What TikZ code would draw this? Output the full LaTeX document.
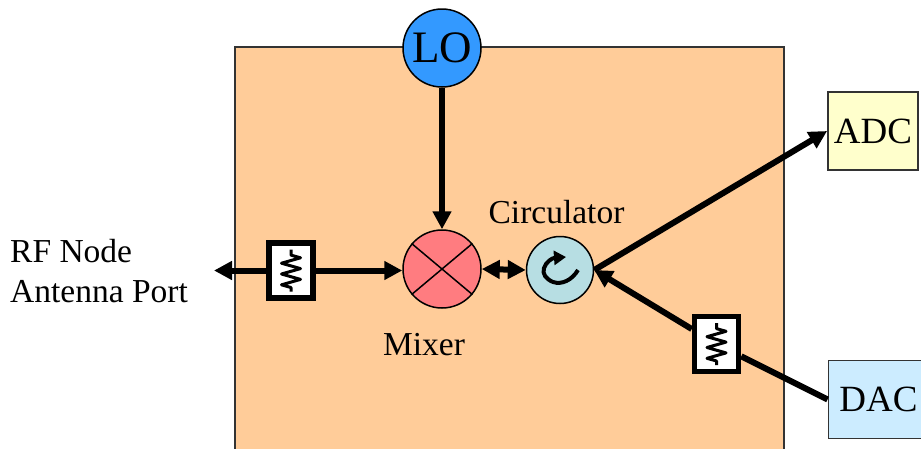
\documentclass[tikz,border=0pt]{standalone}
\usepackage{fontspec}
\setmainfont{Liberation Serif}
\usetikzlibrary{arrows.meta,decorations.pathmorphing}
\definecolor{boardcol}{HTML}{FFCC99}
\definecolor{locol}{HTML}{3399FF}
\definecolor{mixcol}{HTML}{FF7C80}
\definecolor{circcol}{HTML}{B7DEE3}
\definecolor{adccol}{HTML}{FFFFCC}
\definecolor{daccol}{HTML}{CCECFF}
\definecolor{edgecol}{HTML}{333333}
\tikzset{
  lbl/.style={font=\fontsize{33.5}{40}\selectfont, inner sep=0pt},
  blob/.style={circle, draw=black, line width=1.5pt, inner sep=0pt},
  conv/.style={rectangle, draw=edgecol, line width=1.8pt, minimum height=78pt, inner sep=0pt, font=\fontsize{37}{40}\selectfont},
  wire/.style={line width=6pt, -{Triangle[length=18pt,width=18pt]}},
  bothwire/.style={line width=6pt, {Triangle[length=18pt,width=18pt]}-{Triangle[length=18pt,width=18pt]}},
  resbox/.style={rectangle, draw=black, fill=white, line width=5.5pt, minimum width=44pt, minimum height=55pt, inner sep=0pt,
    path picture={
      \draw[line width=3pt, line join=round, decorate, decoration={zigzag, segment length=10.8pt, amplitude=9.5pt, pre length=4pt, post length=4pt}]
        ([yshift=-21pt]path picture bounding box.center) -- ([yshift=21pt]path picture bounding box.center);
    }},
}
\begin{document}
\begin{tikzpicture}[x=1pt, y=-1pt]
    \useasboundingbox (0,0) rectangle (921,448);
    \clip (0,0) rectangle (921,448);

    % Board
    \draw[fill=boardcol, draw=edgecol, line width=1.8pt] (235,47) rectangle (784,470);

    % Blocks
    \node[blob, fill=locol, minimum size=78pt, font=\fontsize{45}{48}\selectfont] (lo) at (442,48) {LO};
    \node[blob, fill=mixcol, minimum size=78pt] (mixer) at (442,269) {};
    \node[blob, fill=circcol, minimum size=67pt] (circ) at (560,270) {};
    \node[conv, fill=adccol, minimum width=90pt] (adc) at (873,131) {ADC};
    \node[conv, fill=daccol, minimum width=100pt] (dac) at (878.5,399.5) {DAC};
    \node[resbox] (resleft) at (291,270.5) {};
    \node[resbox] (resright) at (716.5,344) {};
    \coordinate (antenna) at (214,270.5);

    % Mixer cross
    \draw[line width=1.5pt] (mixer.140) -- (mixer.320);
    \draw[line width=1.5pt] (mixer.40) -- (mixer.220);

    % Circulator glyph
    \draw[line width=4pt, -{Triangle[length=12pt,width=14pt]}] (578,270) .. controls (572,280) and (562,285) .. (553,282)
        .. controls (546,279) and (542,274) .. (544,268) .. controls (546,262) and (552,258) .. (566,257);

    % Connections
    \draw[wire] (lo) -- (mixer);
    \draw[wire] (resleft.west) -- (antenna);
    \draw[wire] (resleft.east) -- (resleft.east -| mixer.west);
    \draw[bothwire] (mixer.east) -- (circ.west);
    \draw[wire] (circ.east) -- (adc.west);
    \draw[wire] (resright) -- (circ.east);
    \draw[line width=6pt] (dac.west) -- (resright);

    % Labels
    \node[lbl, anchor=base west, align=left] (rflabel) at (10,262) {RF Node};
    \node[lbl, anchor=base west, align=left] (portlabel) at (10,302) {Antenna Port};
    \node[lbl, anchor=base] (circlabel) at (556.5,223) {Circulator};
    \node[lbl, anchor=base] (mixlabel) at (424,355) {Mixer};
\end{tikzpicture}
\end{document}
